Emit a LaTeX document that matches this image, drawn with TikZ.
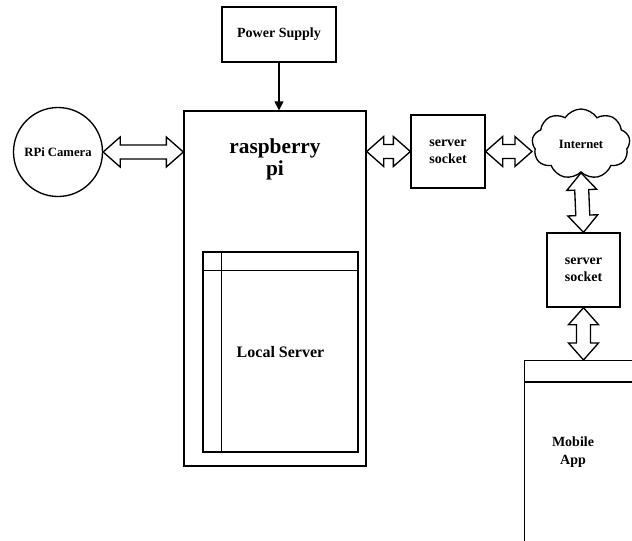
\documentclass[tikz,border=0pt]{standalone}
\usepackage{fontspec}
\setmainfont{Liberation Serif}
\usetikzlibrary{shapes,arrows.meta,calc}
\newdimen\pxu \pxu=0.75pt
\def\fs#1#2{\bfseries\fontsize{#1}{#2}\selectfont}
\def\fatlink#1#2{\draw[fat] (#1) -- ($(#1)!17\pxu!(#2)!15\pxu!90:(#2)$) -- ($(#1)!17\pxu!(#2)!7\pxu!90:(#2)$)
  -- ($(#2)!17\pxu!(#1)!7\pxu!-90:(#1)$) -- ($(#2)!17\pxu!(#1)!15\pxu!-90:(#1)$) -- (#2)
  -- ($(#2)!17\pxu!(#1)!15\pxu!90:(#1)$) -- ($(#2)!17\pxu!(#1)!7\pxu!90:(#1)$)
  -- ($(#1)!17\pxu!(#2)!7\pxu!-90:(#2)$) -- ($(#1)!17\pxu!(#2)!15\pxu!-90:(#2)$) -- cycle}
\tikzstyle{box}=[draw,line width=1pt,align=center]
\tikzstyle{lbl}=[align=center]
\tikzstyle{fat}=[draw,line width=1pt,fill=white,line join=miter]

\begin{document}
\begin{tikzpicture}[x=0.75pt,y=-0.75pt]
    \clip (0,0) rectangle (632,540);
    \node[box,minimum width=114\pxu,minimum height=55\pxu,font=\fs{10.5}{12.6}] (pwr) at (279,34.5) {Power Supply};
    \node[box,minimum width=182\pxu,minimum height=355\pxu] (rpi) at (275,288.5) {};
    \node[lbl,font=\fs{16}{16.5}] (rpitxt) at (275,159) {raspberry\\pi};
    \node[box,minimum width=155\pxu,minimum height=200\pxu,font=\fs{12}{14}] (loc) at (280.5,352) {Local Server};
    \draw[line width=1pt] ($(loc.north west)+(0,19)$) -- ($(loc.north east)+(0,19)$);
    \draw[line width=1pt] ($(loc.north west)+(19,0)$) -- ($(loc.south west)+(19,0)$);
    \node[box,circle,minimum size=89\pxu,inner sep=0pt,font=\fs{9.5}{11}] (cam) at (58,152) {RPi Camera};
    \node[box,minimum width=74\pxu,minimum height=73\pxu,font=\fs{10.5}{12.8}] (sock1) at (448,151.5) {server\\socket};
    \node[box,cloud,cloud puffs=9,cloud puff arc=115,cloud ignores aspect,minimum width=98\pxu,minimum height=70\pxu,inner sep=0pt,font=\fs{9.5}{11}] (web) at (581,144) {Internet};
    \node[box,minimum width=73\pxu,minimum height=74\pxu,font=\fs{10.5}{12.8}] (sock2) at (583.5,270) {server\\socket};
    \node[box,minimum width=140\pxu,minimum height=220\pxu,anchor=north west] (mob) at (524,360) {};
    \draw[line width=1pt] ($(mob.north west)+(0,22)$) -- ($(mob.north east)+(0,22)$);
    \node[lbl,font=\fs{10.5}{14}] (mobtxt) at (573,452) {Mobile\\App};

    \coordinate (rpiT) at (pwr.south |- rpi.north);
    \coordinate (rpiW) at (cam.east -| rpi.west);
    \coordinate (rpiE) at (sock1.west -| rpi.east);
    \coordinate (webW) at (sock1.east -| web.west);
    \coordinate (mobT) at (sock2.south |- mob.north);
    \draw[line width=1pt,-{Triangle[length=6.75pt,width=6.75pt]}] (pwr.south) -- (rpiT);
    \fatlink{cam.east}{rpiW};
    \fatlink{rpiE}{sock1.west};
    \fatlink{sock1.east}{webW};
    \fatlink{web.south}{sock2.north};
    \fatlink{sock2.south}{mobT};
  \end{tikzpicture}
\end{document}
